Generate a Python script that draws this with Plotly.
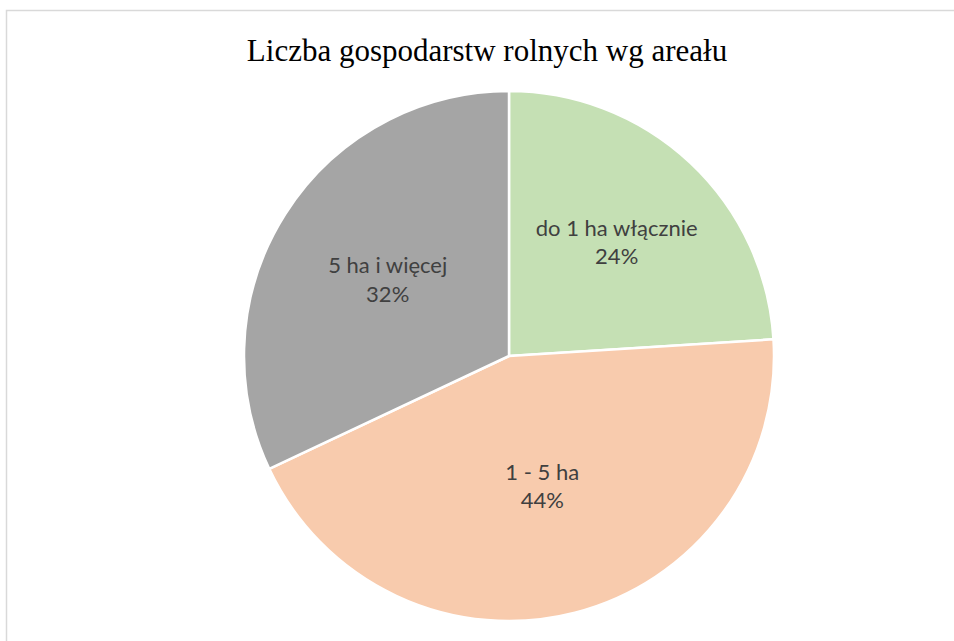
import plotly.graph_objects as go

categories = ["do 1 ha włącznie", "1 - 5 ha", "5 ha i więcej"]
values = [24, 44, 32]
colors = ["#C5E0B4", "#F8CBAD", "#A5A5A5"]
title_text = "Liczba gospodarstw rolnych wg areału"

W, H = 954, 641
cx, cy, R = 509, 356, 265

fig = go.Figure(go.Pie(
    labels=categories,
    values=values,
    sort=False,
    direction="clockwise",
    rotation=0,
    marker=dict(colors=colors, line=dict(color="white", width=2.5)),
    texttemplate="%{label}<br>%{percent:.0%}",
    textposition="inside",
    insidetextorientation="horizontal",
    textfont=dict(family="Lato, Open Sans, sans-serif", size=22, color="#404040"),
    hoverinfo="label+percent",
    domain=dict(x=[(cx - R) / W, (cx + R) / W], y=[1 - (cy + R) / H, 1 - (cy - R) / H]),
    showlegend=False,
))

fig.update_layout(
    width=W, height=H,
    margin=dict(l=0, r=0, t=0, b=0),
    paper_bgcolor="white",
    plot_bgcolor="white",
    title=dict(text=title_text, x=487 / W, xanchor="center", y=1 - 50 / H, yanchor="middle",
               font=dict(family="Liberation Serif, serif", size=31, color="#000000")),
    shapes=[dict(type="rect", xref="paper", yref="paper",
                 x0=6.5 / W, x1=1.02, y0=-0.02, y1=1 - 10.5 / H,
                 line=dict(color="#D9D9D9", width=1.5), fillcolor="rgba(0,0,0,0)", layer="below")],
)

fig.write_html("out.html", config={"displayModeBar": False},
               post_script="document.body.style.margin='0';document.body.style.overflow='hidden';")
